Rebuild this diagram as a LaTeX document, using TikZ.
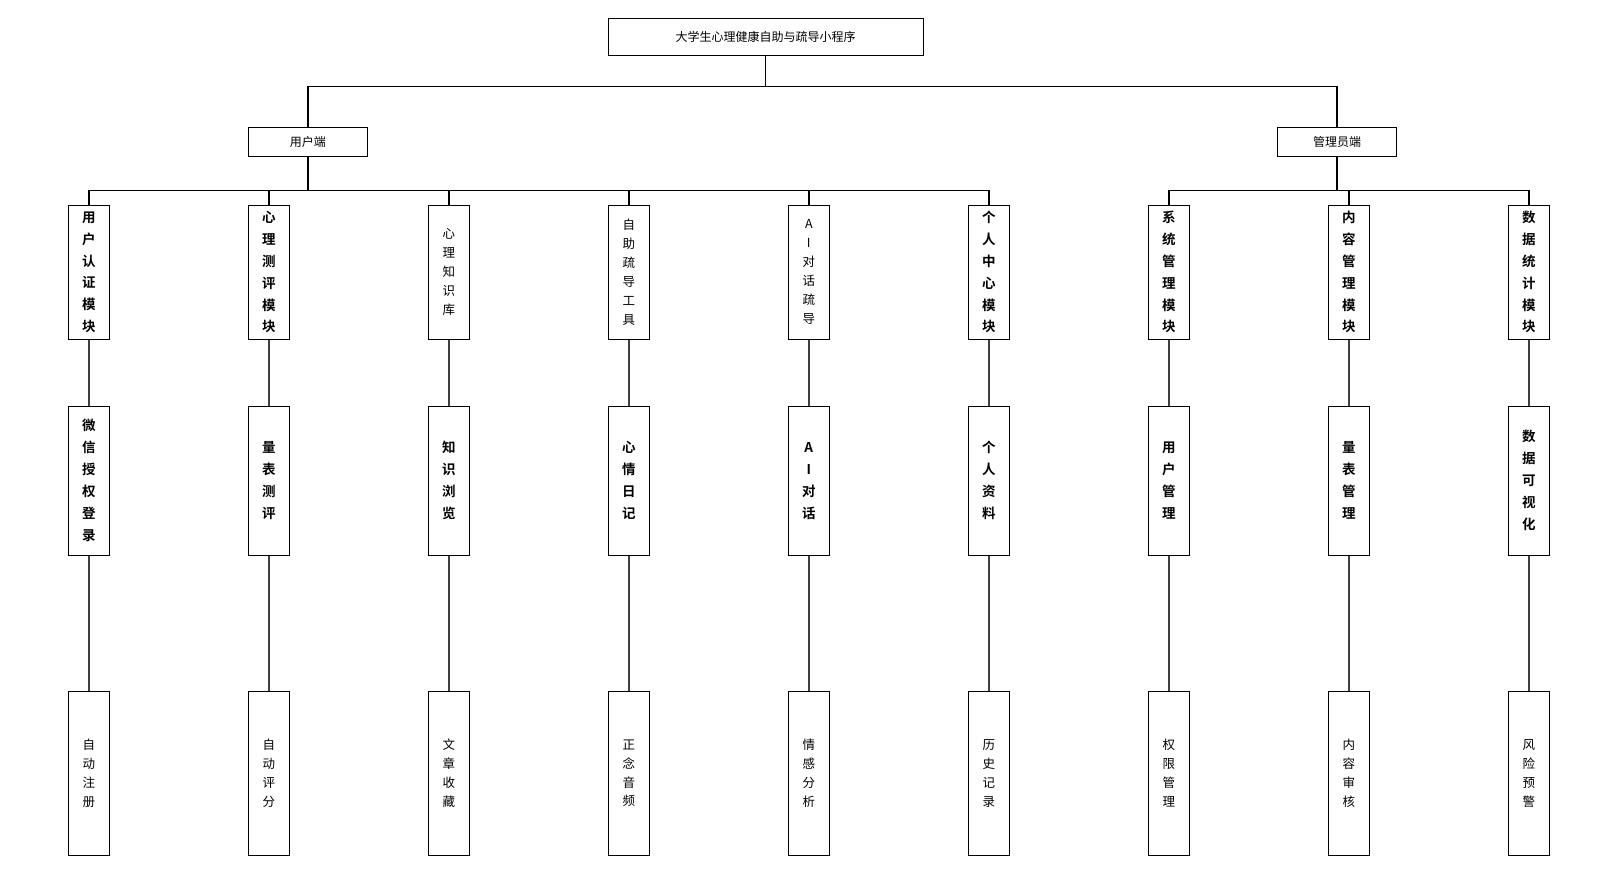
\documentclass[tikz,border=0pt]{standalone}
\usepackage{fontspec}
\usepackage{tikz}
\usetikzlibrary{positioning}
\newfontfamily\cjk[BoldFont={Noto Sans CJK SC Bold}]{Noto Sans CJK SC}

\begin{document}
\begin{tikzpicture}[x=1pt,y=-1pt,
          box/.style={draw,line width=1pt,inner sep=0pt,align=center},
          root/.style={box,minimum width=315pt,minimum height=37pt,
                       font=\cjk\fontsize{12}{14}\selectfont},
          side/.style={box,minimum width=119pt,minimum height=29pt,
                       font=\cjk\fontsize{12}{14}\selectfont},
          mod/.style={box,minimum width=41pt,minimum height=134pt,
                      font=\cjk\bfseries\fontsize{13.5}{21.8}\selectfont},
          modn/.style={mod,font=\cjk\fontsize{12.5}{19}\selectfont},
          sub/.style={box,minimum width=41pt,minimum height=149pt,
                      font=\cjk\bfseries\fontsize{13.5}{22}\selectfont},
          leaf/.style={box,minimum width=41pt,minimum height=164pt,
                       font=\cjk\fontsize{12.5}{18.9}\selectfont},
          bus/.style={line width=1.7pt},
          link/.style={line width=2pt,black!75},
        ]
        \useasboundingbox (0,0) rectangle (1604,894);
        % Topo
        \node[root] (app)   at (765.5,36.5) {大学生心理健康自助与疏导小程序};
        \node[side] (user)  at (307.8,141.5) {用户端};
        \node[side] (admin) at (1337,141.5) {管理员端};
        % Modulos
        \node[mod]  (m1) at (88.8,272.3)   {用\\户\\认\\证\\模\\块};
        \node[mod]  (m2) at (268.8,272.3)  {心\\理\\测\\评\\模\\块};
        \node[modn] (m3) at (448.8,272.3)  {心\\理\\知\\识\\库};
        \node[modn] (m4) at (628.8,272.3)  {自\\助\\疏\\导\\工\\具};
        \node[modn] (m5) at (808.8,272.3)  {A\\I\\对\\话\\疏\\导};
        \node[mod]  (m6) at (988.8,272.3)  {个\\人\\中\\心\\模\\块};
        \node[mod]  (m7) at (1168.8,272.3) {系\\统\\管\\理\\模\\块};
        \node[mod]  (m8) at (1348.8,272.3) {内\\容\\管\\理\\模\\块};
        \node[mod]  (m9) at (1528.8,272.3) {数\\据\\统\\计\\模\\块};
        % Funcoes
        \node[sub] (s1) at (88.8,480.7)   {微\\信\\授\\权\\登\\录};
        \node[sub] (s2) at (268.8,480.7)  {量\\表\\测\\评};
        \node[sub] (s3) at (448.8,480.7)  {知\\识\\浏\\览};
        \node[sub] (s4) at (628.8,480.7)  {心\\情\\日\\记};
        \node[sub] (s5) at (808.8,480.7)  {A\\I\\对\\话};
        \node[sub] (s6) at (988.8,480.7)  {个\\人\\资\\料};
        \node[sub] (s7) at (1168.8,480.7) {用\\户\\管\\理};
        \node[sub] (s8) at (1348.8,480.7) {量\\表\\管\\理};
        \node[sub] (s9) at (1528.8,480.7) {数\\据\\可\\视\\化};
        \node[leaf] (t1) at (88.8,773.3)   {自\\动\\注\\册};
        \node[leaf] (t2) at (268.8,773.3)  {自\\动\\评\\分};
        \node[leaf] (t3) at (448.8,773.3)  {文\\章\\收\\藏};
        \node[leaf] (t4) at (628.8,773.3)  {正\\念\\音\\频};
        \node[leaf] (t5) at (808.8,773.3)  {情\\感\\分\\析};
        \node[leaf] (t6) at (988.8,773.3)  {历\\史\\记\\录};
        \node[leaf] (t7) at (1168.8,773.3) {权\\限\\管\\理};
        \node[leaf] (t8) at (1348.8,773.3) {内\\容\\审\\核};
        \node[leaf] (t9) at (1528.8,773.3) {风\\险\\预\\警};
        % Ligacoes
        \foreach \b in {user,admin}{
          \draw[bus] (app.south) -- ++(0,31) -| (\b.north);
        }
        \foreach \b in {m1,m2,m3,m4,m5,m6}{
          \draw[bus] (user.south) -- ++(0,34) -| (\b.north);
        }
        \foreach \b in {m7,m8,m9}{
          \draw[bus] (admin.south) -- ++(0,34) -| (\b.north);
        }
        \foreach \i in {1,...,9}{
          \draw[link] (m\i.south) -- (s\i.north);
          \draw[link] (s\i.south) -- (t\i.north);
        }
      \end{tikzpicture}
\end{document}
